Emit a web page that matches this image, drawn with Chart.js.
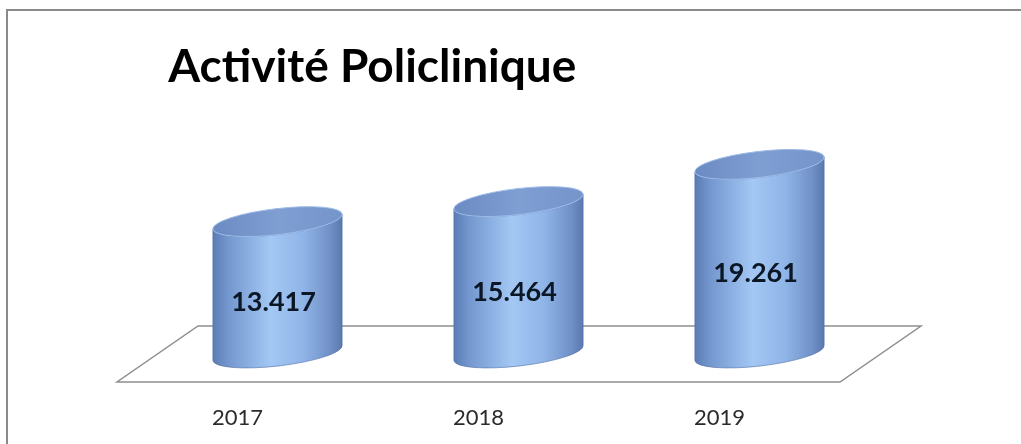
<!DOCTYPE html>
<html lang="fr">
<head>
<meta charset="utf-8">
<title>Activité Policlinique</title>
<script src="https://cdn.jsdelivr.net/npm/chart.js@4.4.1/dist/chart.umd.min.js"></script>
<style>
  html, body { margin: 0; padding: 0; background: #fff; overflow: hidden; }
  #zone { position: absolute; left: 0; top: 0; width: 1021px; height: 444px; }
</style>
</head>
<body>
<div id="zone"><canvas id="graphique" width="1021" height="444"></canvas></div>
<script>
// Données du graphique
const titre = "Activité Policlinique";
const annees = ["2017", "2018", "2019"];
const consultations = [13417, 15464, 19261];
const echelleMax = 25000;

// format 13.417
const formatValeur = v => new Intl.NumberFormat("de-DE").format(v);

// Plugin : cadre, sol en perspective + cylindres 3D dessinés sur les barres
const cylindres = {
    id: "cylindres",
    beforeDraw(chart) {
        // cadre gris (haut et gauche seulement visibles)
        const ctx = chart.ctx;
        ctx.save();
        ctx.strokeStyle = "#8a8a8a";
        ctx.lineWidth = 2;
        ctx.beginPath();
        ctx.moveTo(7, chart.height);
        ctx.lineTo(7, 10);
        ctx.lineTo(chart.width, 10);
        ctx.stroke();
        ctx.restore();
    },
    beforeDatasetsDraw(chart) {
        const ctx = chart.ctx;
        const zone = chart.chartArea;
        const base = chart.scales.y.getPixelForValue(0);
        ctx.save();
        ctx.beginPath();
        ctx.moveTo(zone.left - 40, base + 29);
        ctx.lineTo(zone.right - 40, base + 29);
        ctx.lineTo(zone.right + 41, base - 27);
        ctx.lineTo(zone.left + 41, base - 27);
        ctx.closePath();
        ctx.strokeStyle = "#8f8f8f";
        ctx.lineWidth = 1.5;
        ctx.stroke();
        ctx.restore();
    },
    afterDatasetsDraw(chart) {
        const ctx = chart.ctx;
        const meta = chart.getDatasetMeta(0);
        meta.data.forEach((barre, i) => {
            const cx = barre.x;
            const a = barre.width / 2;
            const b = 13;          // demi petit axe des ellipses
            const rot = -0.116;    // inclinaison
            const haut = barre.y;
            const bas = barre.base;
            const dx = a * Math.cos(rot);
            const dy = a * Math.sin(rot);

            ctx.save();
            // Corps du cylindre
            const grad = ctx.createLinearGradient(cx - a, 0, cx + a, 0);
            grad.addColorStop(0, "#5a7bb3");
            grad.addColorStop(0.12, "#7497cf");
            grad.addColorStop(0.45, "#a3c8f4");
            grad.addColorStop(0.7, "#8fb4e7");
            grad.addColorStop(0.9, "#7191c8");
            grad.addColorStop(1, "#5878ae");
            ctx.beginPath();
            ctx.moveTo(cx - dx, haut - dy);
            ctx.lineTo(cx - dx, bas - dy);
            ctx.ellipse(cx, bas, a, b, rot, Math.PI, 0, true);
            ctx.lineTo(cx + dx, haut + dy);
            ctx.ellipse(cx, haut, a, b, rot, 0, Math.PI, false);
            ctx.closePath();
            ctx.fillStyle = grad;
            ctx.fill();
            ctx.strokeStyle = "rgba(80,110,165,0.6)";
            ctx.lineWidth = 1;
            ctx.stroke();

            // Dessus
            const gradHaut = ctx.createLinearGradient(cx - a, haut, cx + a, haut);
            gradHaut.addColorStop(0, "#6a8ac2");
            gradHaut.addColorStop(0.5, "#7f9fd3");
            gradHaut.addColorStop(1, "#7594ca");
            ctx.beginPath();
            ctx.ellipse(cx, haut, a, b, rot, 0, Math.PI * 2);
            ctx.fillStyle = gradHaut;
            ctx.fill();
            ctx.strokeStyle = "#9dbbe8";
            ctx.lineWidth = 1;
            ctx.stroke();

            // Valeur
            ctx.fillStyle = "#0c1726";
            ctx.font = "bold 27px Lato";
            ctx.textAlign = "center";
            ctx.textBaseline = "middle";
            ctx.fillText(formatValeur(consultations[i]), cx - 4, (haut + bas) / 2 + 15);
            ctx.restore();
        });
    }
};

function dessiner() {
    new Chart(document.getElementById("graphique"), {
        type: "bar",
        data: {
            labels: annees,
            datasets: [{
                label: titre,
                data: consultations,
                backgroundColor: "rgba(0,0,0,0)",
                borderWidth: 0,
                barPercentage: 0.54,
                categoryPercentage: 1
            }]
        },
        options: {
            responsive: false,
            animation: false,
            devicePixelRatio: 1,
            layout: { padding: { left: 157, right: 141, top: 28, bottom: 0 } },
            plugins: {
                legend: { display: false },
                tooltip: { enabled: false },
                title: {
                    display: true,
                    text: " " + titre,
                    align: "start",
                    color: "#000",
                    font: { family: "Lato", size: 46, weight: "bold" },
                    padding: { top: 12, bottom: 13 }
                }
            },
            scales: {
                x: {
                    grid: { display: false, drawTicks: false },
                    border: { display: false },
                    ticks: {
                        color: "#2b2b2b",
                        font: { family: "Lato", size: 22 },
                        padding: 52,
                        labelOffset: -40,
                        maxRotation: 0
                    },
                    // hauteur fixe de l'axe pour garder la base à la bonne place
                    afterFit(scale) { scale.height = 91; }
                },
                y: { display: false, min: 0, max: echelleMax }
            }
        },
        plugins: [cylindres]
    });
}

Promise.all([
    document.fonts.load("bold 46px Lato"),
    document.fonts.load("22px Lato")
]).then(dessiner, dessiner);
</script>
</body>
</html>
